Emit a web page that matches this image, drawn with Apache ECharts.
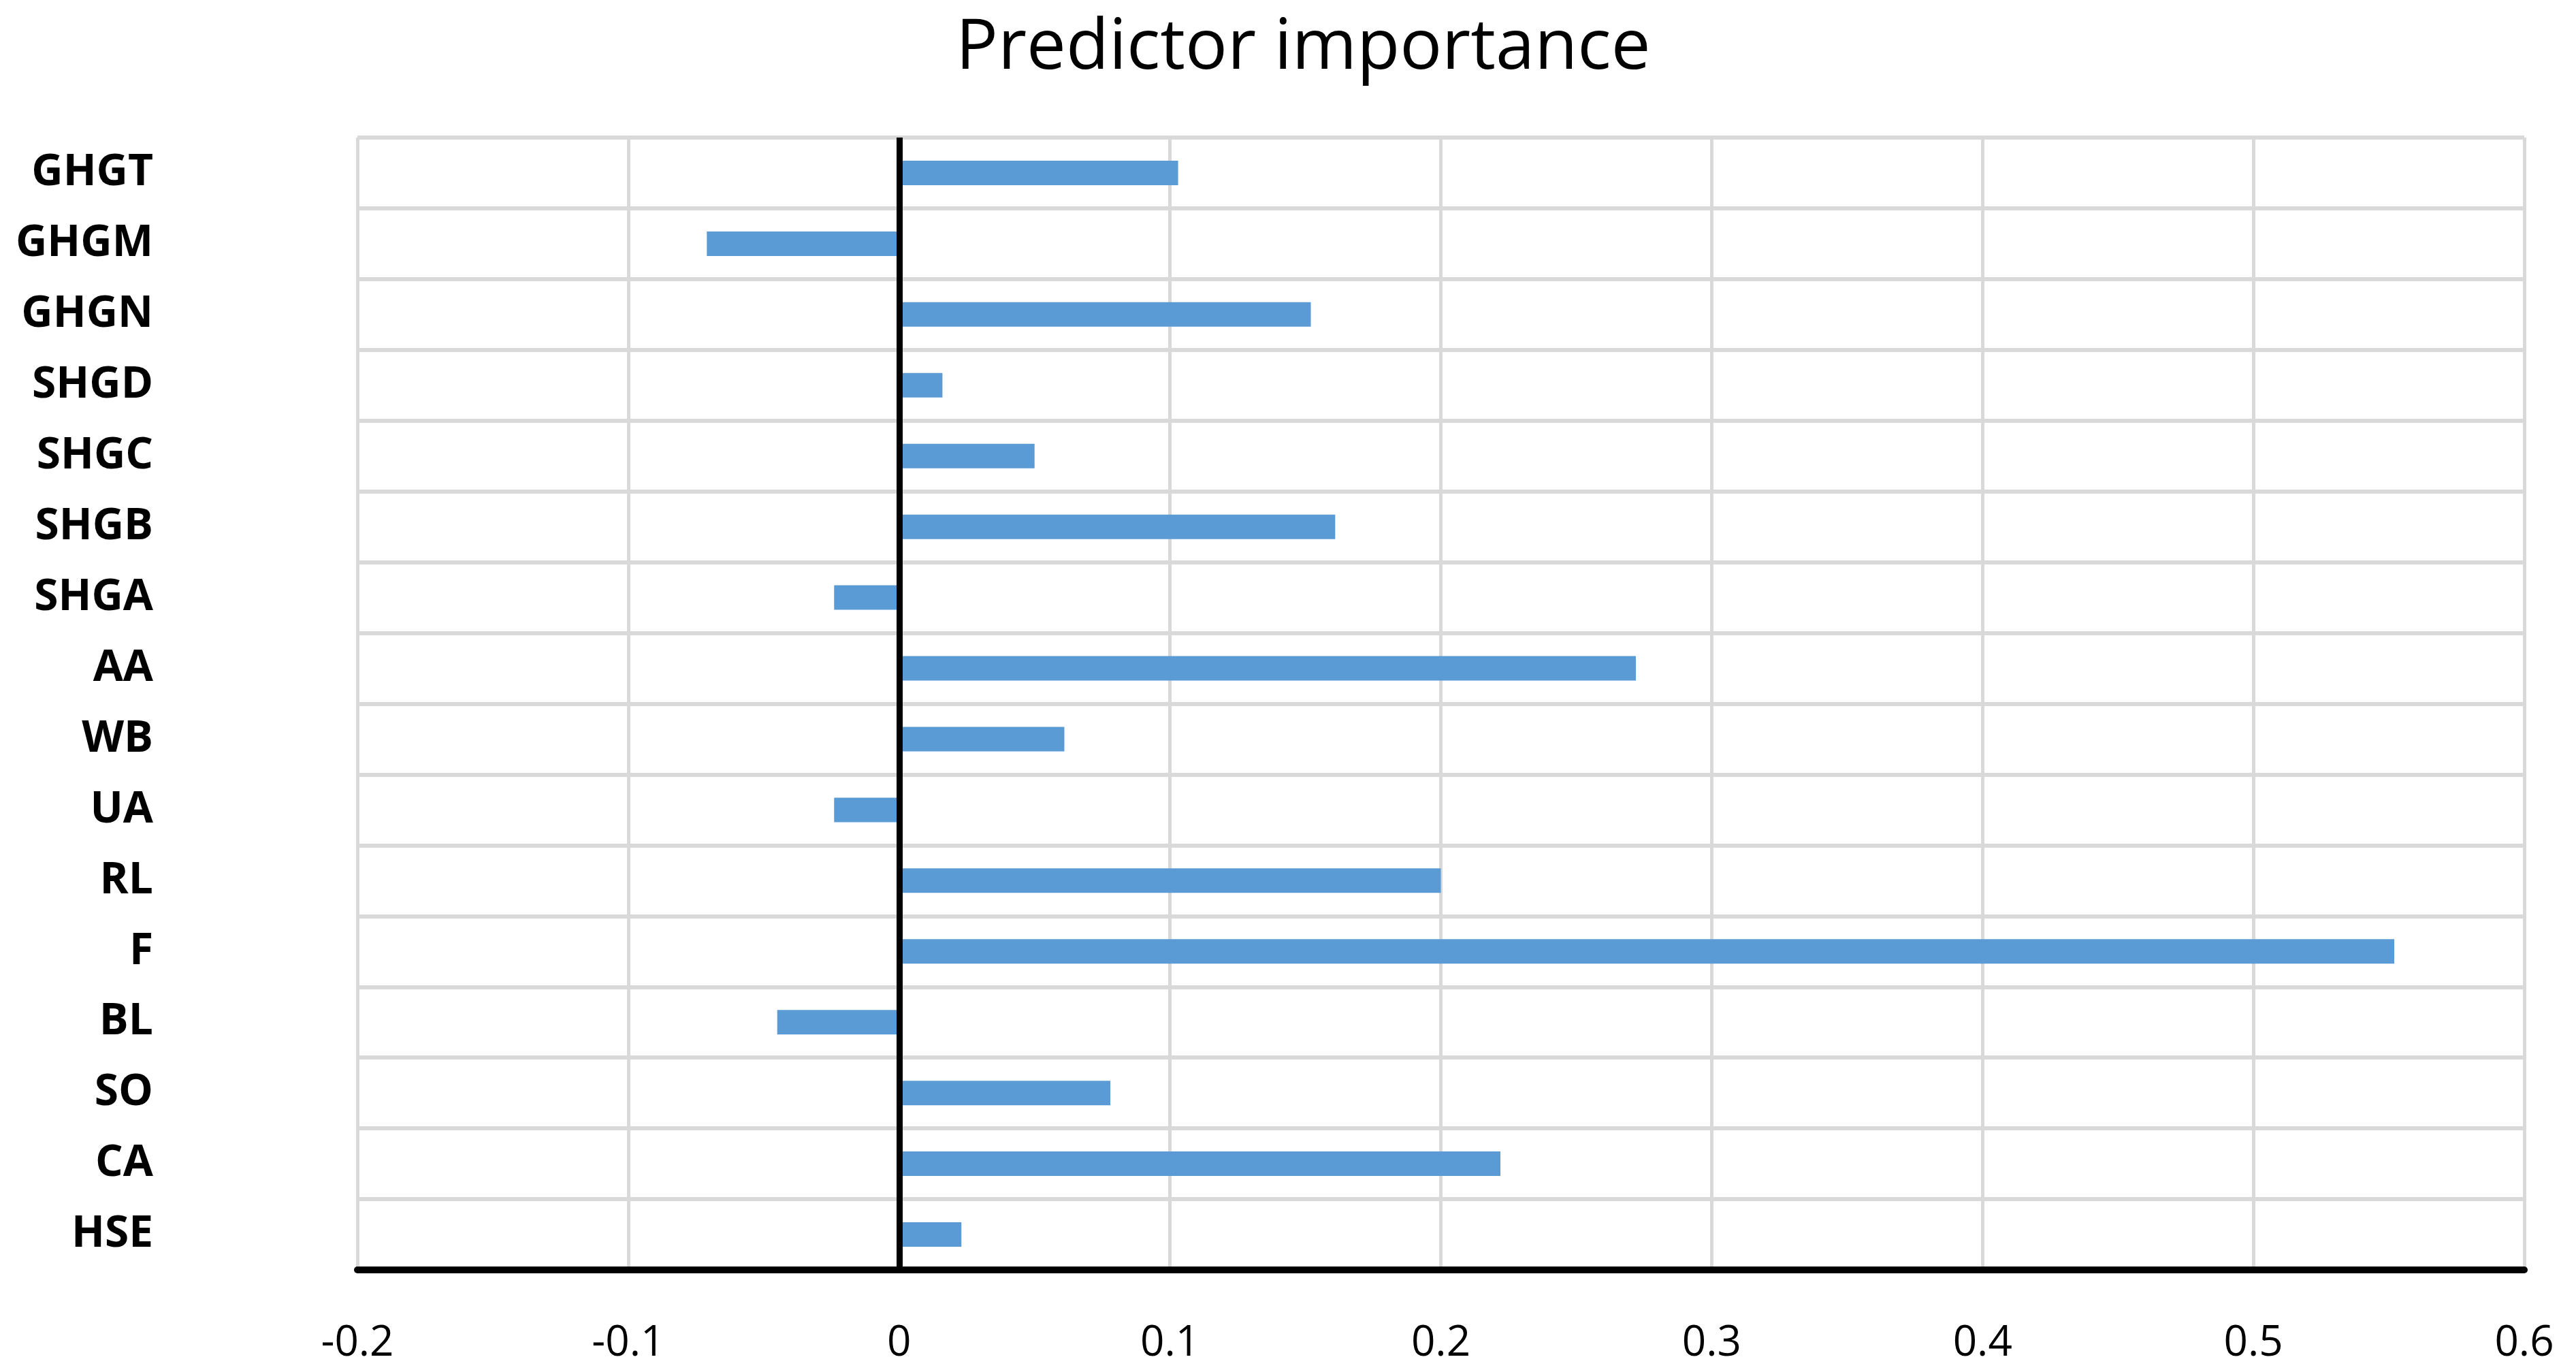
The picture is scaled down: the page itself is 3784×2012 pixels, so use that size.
<!DOCTYPE html>
<html>
<head>
<meta charset="utf-8">
<script src="https://cdn.jsdelivr.net/npm/echarts@6/dist/echarts.min.js"></script>
<style>html,body{margin:0;padding:0;background:#fff}#c{width:3784px;height:2012px}</style>
</head>
<body>
<div id="c"></div>
<script>
const categories = ['GHGT','GHGM','GHGN','SHGD','SHGC','SHGB','SHGA','AA','WB','UA','RL','F','BL','SO','CA','HSE'];
const values = [0.103,-0.071,0.152,0.016,0.050,0.161,-0.024,0.272,0.061,-0.024,0.200,0.552,-0.045,0.078,0.222,0.023];
const xTicks = {min:-0.2, max:0.6, interval:0.1};
const titleText = 'Predictor importance';

const chart = echarts.init(document.getElementById('c'), null, {renderer:'canvas'});
chart.setOption({
  backgroundColor:'#ffffff',
  animation:false,
  title:{
    text:titleText,
    left:1404,
    top:20,
    padding:0,
    textStyle:{fontFamily:'Open Sans',fontSize:103,fontWeight:'normal',color:'#000'}
  },
  grid:{left:525,right:76,top:202,bottom:147,containLabel:false},
  xAxis:{
    type:'value',
    min:xTicks.min,max:xTicks.max,interval:xTicks.interval,
    axisLine:{show:true,onZero:false,lineStyle:{color:'#000',width:10}},
    axisTick:{show:false},
    axisLabel:{fontFamily:'Open Sans',fontSize:62,color:'#000',margin:77,
      formatter:v=>String(Math.round(v*10)/10)},
    splitLine:{show:true,lineStyle:{color:'#d9d9d9',width:5}}
  },
  yAxis:{
    type:'category',
    data:categories,
    inverse:true,
    axisLine:{show:false,onZero:false},
    axisTick:{show:false},
    axisLabel:{fontFamily:'Open Sans',fontWeight:'bold',fontSize:64,color:'#000',margin:300,padding:[10,0,0,0]},
    splitLine:{show:true,lineStyle:{color:'#d9d9d9',width:6}}
  },
  series:[{
    type:'bar',
    data:values,
    barWidth:36,
    itemStyle:{color:'#5b9bd5'},
    markLine:{
      silent:true,
      symbol:['none','none'],
      label:{show:false},
      lineStyle:{color:'#000',width:9,type:'solid'},
      data:[{xAxis:0}]
    }
  }]
});
</script>
</body>
</html>
